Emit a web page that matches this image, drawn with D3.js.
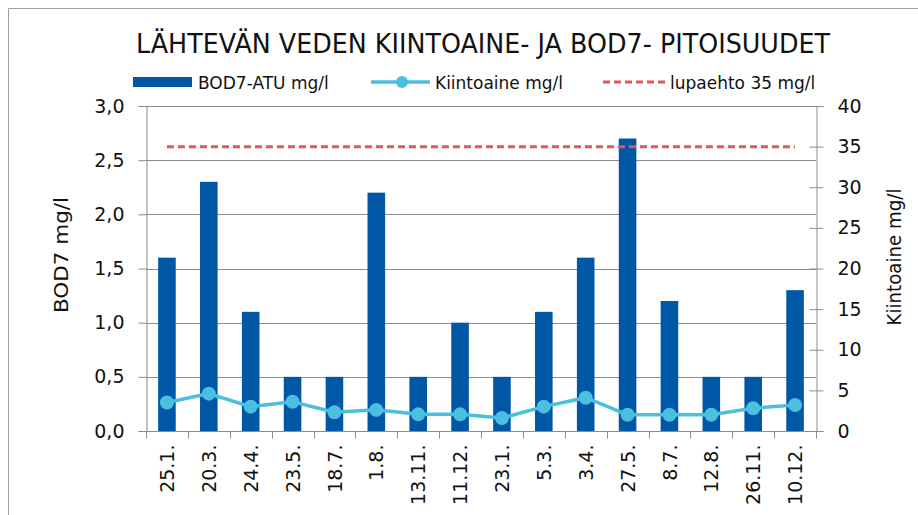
<!DOCTYPE html>
<html>
<head>
<meta charset="utf-8">
<script src="https://cdn.jsdelivr.net/npm/d3@7"></script>
<style>
  body { margin: 0; background: #fff; }
  text { font-family: "DejaVu Sans", "Liberation Sans", sans-serif; fill: #111; }
</style>
</head>
<body>
<div id="chart"></div>
<script>
// data
let dates = ["25.1.", "20.3.", "24.4.", "23.5.", "18.7.", "1.8.", "13.11.", "11.12.",
  "23.1.", "5.3.", "3.4.", "27.5.", "8.7.", "12.8.", "26.11.", "10.12."];
let bod = [1.6, 2.3, 1.1, 0.5, 0.5, 2.2, 0.5, 1.0, 0.5, 1.1, 1.6, 2.7, 1.2, 0.5, 0.5, 1.3];
let kiinto = [3.5, 4.6, 3.0, 3.6, 2.3, 2.6, 2.05, 2.05, 1.6, 3.0, 4.1, 2.0, 2.0, 2.0, 2.8, 3.2];
let limit = 35;
let leftTicks = [0, 0.5, 1, 1.5, 2, 2.5, 3];
let rightTicks = [0, 5, 10, 15, 20, 25, 30, 35, 40];

let width = 918, height = 515;
let margin = { top: 106, right: 102, bottom: 84, left: 146 };

let svg = d3.select("#chart").append("svg")
  .attr("width", width)
  .attr("height", height);

// chart frame
svg.append("path")
  .attr("d", "M8.5," + height + "V8.5H" + width)
  .attr("fill", "none")
  .attr("stroke", "#a0a0a0");

let x = d3.scaleBand()
  .domain(dates)
  .range([margin.left, width - margin.right])
  .paddingInner(0.58)
  .paddingOuter(0.29);

let xc = d3.scalePoint()
  .domain(dates)
  .range([margin.left, width - margin.right])
  .padding(0.5);

let yL = d3.scaleLinear().domain([0, 3]).range([height - margin.bottom, margin.top]);
let yR = d3.scaleLinear().domain([0, 40]).range([height - margin.bottom, margin.top]);

let x0 = margin.left, x1 = width - margin.right;

// gridlines
svg.append("g")
  .selectAll("line")
  .data(leftTicks.slice(1))
  .enter().append("line")
  .attr("x1", x0).attr("x2", x1)
  .attr("y1", d => Math.round(yL(d)) + 0.5)
  .attr("y2", d => Math.round(yL(d)) + 0.5)
  .attr("stroke", "#8c8c8c");

// bars
svg.append("g")
  .selectAll("rect")
  .data(bod)
  .enter().append("rect")
  .attr("x", (d, i) => x(dates[i]))
  .attr("width", x.bandwidth())
  .attr("y", d => yL(d))
  .attr("height", d => yL(0) - yL(d))
  .attr("fill", "#0057a5");

// left axis
let axL = svg.append("g")
  .attr("transform", "translate(" + (x0 + 0.5) + ",0)")
  .call(d3.axisLeft(yL).tickValues(leftTicks).tickFormat(d => d3.format(".1f")(d).replace(".", ",")).tickSize(8).tickPadding(14));

// right axis
let axR = svg.append("g")
  .attr("transform", "translate(" + (x1 + 0.5) + ",0)")
  .call(d3.axisRight(yR).tickValues(rightTicks).tickSize(7).tickPadding(14));
axR.selectAll(".tick line").attr("x1", -7).attr("x2", 7);

// bottom axis
let axB = svg.append("g")
  .attr("transform", "translate(0," + (yL(0) + 0.5) + ")")
  .call(d3.axisBottom(xc).tickSize(0));
axB.select(".domain").attr("d", "M" + x0 + ",0H" + (x1 + 7));
let step = (x1 - x0) / dates.length;
axB.selectAll(".cat")
  .data(d3.range(dates.length + 1))
  .enter().append("line")
  .attr("x1", i => Math.round(x0 + i * step) + 0.5)
  .attr("x2", i => Math.round(x0 + i * step) + 0.5)
  .attr("y1", 0).attr("y2", 7)
  .attr("stroke", "#8c8c8c");
axB.selectAll(".tick text")
  .attr("transform", "rotate(-90)")
  .attr("text-anchor", "end")
  .attr("dy", "0.35em")
  .attr("x", -13)
  .attr("y", 0);

[axL, axR, axB].forEach(a => {
  a.selectAll(".domain, .tick line").attr("stroke", "#8c8c8c");
  a.selectAll("text").style("font-size", "19px").attr("fill", "#111");
});

// limit line
svg.append("line")
  .attr("x1", xc(dates[0])).attr("x2", xc(dates[dates.length - 1]))
  .attr("y1", yR(limit)).attr("y2", yR(limit))
  .attr("stroke", "#e0575a")
  .attr("stroke-width", 3)
  .attr("stroke-dasharray", "7,4");

// kiintoaine line
let line = d3.line()
  .x((d, i) => xc(dates[i]))
  .y(d => yR(d));

svg.append("path")
  .datum(kiinto)
  .attr("d", line)
  .attr("fill", "none")
  .attr("stroke", "#4bbfe0")
  .attr("stroke-width", 3.5);

svg.append("g")
  .selectAll("circle")
  .data(kiinto)
  .enter().append("circle")
  .attr("cx", (d, i) => xc(dates[i]))
  .attr("cy", d => yR(d))
  .attr("r", 7)
  .attr("fill", "#4bbfe0");

// axis titles
svg.append("text")
  .attr("transform", "translate(68,255) rotate(-90)")
  .attr("text-anchor", "middle")
  .attr("textLength", 116)
  .attr("lengthAdjust", "spacingAndGlyphs")
  .style("font-size", "20px")
  .text("BOD7 mg/l");

svg.append("text")
  .attr("transform", "translate(901,257) rotate(-90)")
  .attr("text-anchor", "middle")
  .attr("textLength", 137)
  .attr("lengthAdjust", "spacingAndGlyphs")
  .style("font-size", "19px")
  .text("Kiintoaine mg/l");

// title
svg.append("text")
  .attr("x", 483).attr("y", 53)
  .attr("text-anchor", "middle")
  .attr("textLength", 694)
  .attr("lengthAdjust", "spacingAndGlyphs")
  .style("font-size", "27px")
  .attr("fill", "#1a1a1a")
  .text("LÄHTEVÄN VEDEN KIINTOAINE- JA BOD7- PITOISUUDET");

// legend
let leg = svg.append("g").attr("transform", "translate(0,82)");
leg.append("rect").attr("x", 133).attr("y", -5).attr("width", 59).attr("height", 10).attr("fill", "#0057a5");
leg.append("text").attr("x", 198).attr("y", 6.5).style("font-size", "17px").text("BOD7-ATU mg/l");
leg.append("line").attr("x1", 371).attr("x2", 430).attr("y1", 0).attr("y2", 0)
  .attr("stroke", "#4bbfe0").attr("stroke-width", 3.5);
leg.append("circle").attr("cx", 402).attr("cy", 0).attr("r", 6).attr("fill", "#4bbfe0");
leg.append("text").attr("x", 435).attr("y", 6.5).style("font-size", "17px").text("Kiintoaine mg/l");
leg.append("line").attr("x1", 603).attr("x2", 666).attr("y1", 0).attr("y2", 0)
  .attr("stroke", "#e0575a").attr("stroke-width", 3).attr("stroke-dasharray", "7,4");
leg.append("text").attr("x", 670).attr("y", 6.5).style("font-size", "17px").text("lupaehto 35 mg/l");
</script>
</body>
</html>
